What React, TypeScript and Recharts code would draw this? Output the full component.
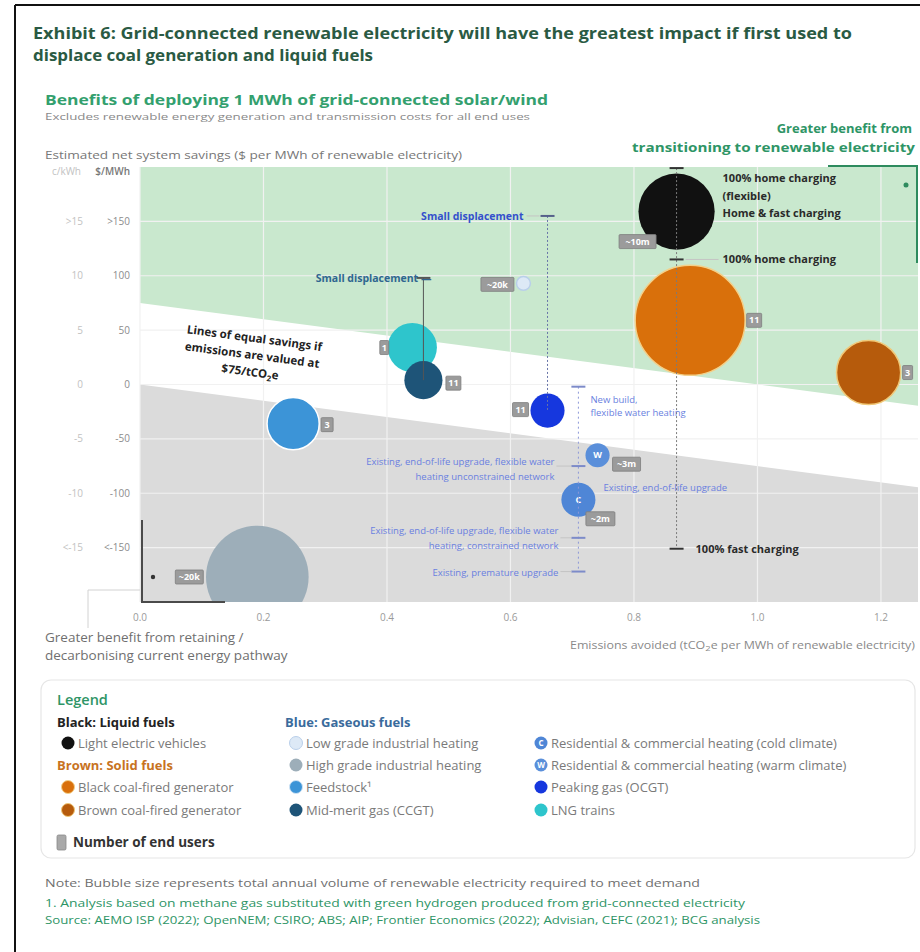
import React from 'react';
import {
  ComposedChart,
  Area,
  Scatter,
  XAxis,
  YAxis,
  ZAxis,
  ReferenceLine,
} from 'recharts';

// ---------- DATA ----------
const categories = [
  'Light electric vehicles',
  'Black coal-fired generator',
  'Brown coal-fired generator',
  'Low grade industrial heating',
  'High grade industrial heating',
  'Feedstock',
  'Mid-merit gas (CCGT)',
  'Residential & commercial heating (cold climate)',
  'Residential & commercial heating (warm climate)',
  'Peaking gas (OCGT)',
  'LNG trains',
];
// tCO2e avoided per MWh of renewable electricity
const emissionsAvoided = [0.869, 0.891, 1.18, 0.621, 0.19, 0.248, 0.459, 0.71, 0.741, 0.66, 0.441];
// Net system savings, $/MWh
const netSavings = [159, 59, 11, 93, -177, -36, 4, -106, -65, -24, 34];
// Annual renewable electricity volume (bubble size)
const volumeTWh = [48, 100, 34, 1.6, 87, 22.5, 12, 9.6, 4.8, 9.6, 20];
// Number of end users
const endUsers = ['~10m', '11', '3', '~20k', '~20k', '3', '11', '~2m', '~3m', '11', '1'];

const xTicks = [0, 0.2, 0.4, 0.6, 0.8, 1.0, 1.2];
const yTicks = [-150, -100, -50, 0, 50, 100, 150];
const yTickLabels = ['<-150', '-100', '-50', '0', '50', '100', '>150'];
const yTickLabelsCents = ['<-15', '-10', '-5', '0', '5', '10', '>15'];

// Lines of equal savings ($75/tCO2e)
const bandX = [0, 1.26];
const greenFloor = [75, -19.5];
const grayCeiling = [0, -94.5];
const bandTop = 200;
const bandBottom = -200;

// Ranges (vertical sensitivity lines)
const rangeX = [0.869, 0.459, 0.66, 0.71];
const rangeTop = [199, 98, 155, -2];
const rangeBottom = [-151, 4, -24, -172];

// Range annotations
const noteX = [0.869, 0.869, 0.869, 0.459, 0.66, 0.71, 0.71, 0.71, 0.71, 0.71];
const noteY = [199, 115, -151, 98, 155, -2, -75, -141, -172, -106];
const noteText = [
  ['100% home charging', '(flexible)', 'Home & fast charging'],
  ['100% home charging'],
  ['100% fast charging'],
  ['Small displacement —'],
  ['Small displacement'],
  ['New build,', 'flexible water heating'],
  ['Existing, end-of-life upgrade, flexible water', 'heating unconstrained network'],
  ['Existing, end-of-life upgrade, flexible water', 'heating, constrained network'],
  ['Existing, premature upgrade'],
  ['Existing, end-of-life upgrade'],
];

// ---------- STYLES ----------
const FONT = '"Open Sans", "Noto Sans", sans-serif';
const bubbleFill = ['#111111', '#D9700B', '#B65B0C', '#DDE9F6', '#9DAEB9', '#3C94D7', '#1E5478', '#4F86D6', '#5A8FDA', '#1637DE', '#2EC5CC'];
const bubbleStroke = ['none', '#F3D08A', '#F0C878', '#B9CFEA', 'none', '#FFFFFF', 'none', 'none', 'none', 'none', 'none'];
const bubbleLetter = ['', '', '', '', '', '', '', 'C', 'W', '', ''];
// badge centre offset from bubble centre (px), and size
const badgeDx = [-39, 64, 39, -26, -68, 34, 30, 22, 29, -27, -28];
const badgeDy = [30, 0, 0, 1, 0, 1, 3, 19, 9, -1, 0];
const badgeW = [37, 15, 10, 33, 28, 12, 15, 29, 28, 16, 9];

const noteStyle = [
  { anchor: 'start', dx: 46, dy: [14, 32, 49], color: '#2a2a2a', size: 11, weight: 700, tick: '#333' },
  { anchor: 'start', dx: 46, dy: [4], color: '#2a2a2a', size: 11, weight: 700, tick: '#333', conn: [9, 42] },
  { anchor: 'start', dx: 19, dy: [4], color: '#2a2a2a', size: 11, weight: 700, tick: '#333' },
  { anchor: 'end', dx: 8, dy: [4], color: '#2F6690', size: 10.5, weight: 700, tick: '#555' },
  { anchor: 'end', dx: -24, dy: [4], color: '#3450CC', size: 10.5, weight: 700, tick: '#55608a', conn: [-21, -8] },
  { anchor: 'start', dx: 12, dy: [16, 29], color: '#6A7FE0', size: 9.5, weight: 400, tick: '#7d8bc9' },
  { anchor: 'end', dx: -24, dy: [-1, 14], color: '#6A7FE0', size: 9.5, weight: 400, tick: '#7d8bc9', conn: [-22, -7] },
  { anchor: 'end', dx: -20, dy: [-4, 11], color: '#6A7FE0', size: 9.5, weight: 400, tick: '#7d8bc9', conn: [-18, -7] },
  { anchor: 'end', dx: -20, dy: [4], color: '#6A7FE0', size: 9.5, weight: 400, tick: '#7d8bc9', conn: [-18, -7] },
  { anchor: 'start', dx: 25, dy: [-9], color: '#6A7FE0', size: 9.5, weight: 400, tick: '' },
];

const rangeStyle = [
  { stroke: '#7a7a7a', dash: '2 2' },
  { stroke: '#555', dash: '' },
  { stroke: '#6874a8', dash: '2 2' },
  { stroke: '#8c98d8', dash: '2 3' },
];

// ---------- SHAPES ----------
const BubbleShape = (p: any) => {
  const { cx, cy, payload } = p;
  const r = p.width ? p.width / 2 : Math.sqrt(Math.max(p.size || 0, 0) / Math.PI);
  const i = payload.idx;
  const stroke = bubbleStroke[i];
  return (
    <g>
      <circle cx={cx} cy={cy} r={r} fill={bubbleFill[i]} stroke={stroke} strokeWidth={stroke === 'none' ? 0 : 1.5} />
      {bubbleLetter[i] ? (
        <text x={cx} y={cy} dy="0.35em" textAnchor="middle" fill="#fff" fontSize={9} fontWeight={700} fontFamily={FONT}>
          {bubbleLetter[i]}
        </text>
      ) : null}
    </g>
  );
};

const EmptyShape = () => <g />;

const BadgeShape = (p: any) => {
  const { cx, cy, payload } = p;
  const i = payload.idx;
  const bx = cx + badgeDx[i];
  const by = cy + badgeDy[i];
  const w = badgeW[i];
  const h = 14;
  return (
    <g>
      <rect x={bx - w / 2} y={by - h / 2} width={w} height={h} fill="#9b9b9b" stroke="#7d7d7d" strokeWidth={0.8} rx={1} />
      <text x={bx} y={by} dy="0.35em" textAnchor="middle" fill="#ffffff" fontSize={9} fontWeight={700} fontFamily={FONT}>
        {endUsers[i]}
      </text>
    </g>
  );
};

const NoteShape = (p: any) => {
  const { cx, cy, payload } = p;
  const i = payload.idx;
  const s: any = noteStyle[i];
  return (
    <g>
      {s.tick ? <line x1={cx - 7} x2={cx + 7} y1={cy} y2={cy} stroke={s.tick} strokeWidth={2} /> : null}
      {s.conn ? <line x1={cx + s.conn[0]} x2={cx + s.conn[1]} y1={cy} y2={cy} stroke="#c4c4c4" strokeWidth={1} /> : null}
      {noteText[i].map((t, k) => (
        <text
          key={k}
          x={cx + s.dx}
          y={cy + s.dy[k]}
          textAnchor={s.anchor}
          fill={s.color}
          fontSize={s.size}
          fontWeight={s.weight}
          fontFamily={FONT}
        >
          {t}
        </text>
      ))}
    </g>
  );
};

const YTick = (p: any) => {
  const { x, y, payload } = p;
  const k = yTicks.indexOf(payload.value);
  return (
    <g>
      <text x={x - 2} y={y} dy="0.35em" textAnchor="end" fill="#8c8c8c" fontSize={10} fontFamily={FONT}>
        {yTickLabels[k]}
      </text>
      <text x={x - 49} y={y} dy="0.35em" textAnchor="end" fill="#c2c2c2" fontSize={10} fontFamily={FONT}>
        {yTickLabelsCents[k]}
      </text>
    </g>
  );
};

// ---------- LEGEND ----------
const legendCols = [
  [
    { head: 'Black: Liquid fuels', color: '#222' },
    { idx: 0 },
    { head: 'Brown: Solid fuels', color: '#C8731F' },
    { idx: 1 },
    { idx: 2 },
  ],
  [{ head: 'Blue: Gaseous fuels', color: '#3A6B9C' }, { idx: 3 }, { idx: 4 }, { idx: 5, label: 'Feedstock¹' }, { idx: 6 }],
  [{ blank: true }, { idx: 7 }, { idx: 8 }, { idx: 9 }, { idx: 10 }],
];
const legendColX = [57, 285, 530];
const legendRowY = [722, 743, 765, 787, 810];

export default function App() {
  const bubbles = categories
    .map((name, i) => ({ name, x: emissionsAvoided[i], y: netSavings[i], z: volumeTWh[i], idx: i }))
    .sort((a, b) => b.z - a.z);
  const bandData = bandX.map((x, i) => ({ x, green: [greenFloor[i], bandTop], gray: [bandBottom, grayCeiling[i]] }));
  const notes = noteX.map((x, i) => ({ x, y: noteY[i], idx: i }));
  const ranges = rangeX.map((x, i) => [
    { x, y: rangeTop[i] },
    { x, y: rangeBottom[i] },
  ]);

  return (
    <div style={{ position: 'absolute', left: 0, top: 0, width: 920, height: 952, background: '#fff', overflow: 'hidden' }}>
      <div style={{ position: 'absolute', left: 0, top: 0 }}>
        <ComposedChart width={920} height={660} data={bandData} margin={{ top: 167, right: 2, left: 80, bottom: 28 }}>
          <XAxis
            type="number"
            dataKey="x"
            domain={[0, 1.26]}
            ticks={xTicks}
            allowDataOverflow
            tickFormatter={(v: number) => v.toFixed(1)}
            axisLine={false}
            tickLine={false}
            tickSize={0}
            tickMargin={12}
            height={30}
            tick={{ fill: '#9a9a9a', fontSize: 10, fontFamily: FONT }}
          />
          <YAxis
            type="number"
            domain={[bandBottom, bandTop]}
            ticks={yTicks}
            allowDataOverflow
            axisLine={false}
            tickLine={false}
            tickSize={0}
            tickMargin={8}
            width={60}
            tick={<YTick />}
          />
          <ZAxis dataKey="z" type="number" domain={[0, 100]} range={[0, 9503]} />
          <ZAxis zAxisId="n" dataKey="z" type="number" range={[4, 4]} />
          <Area dataKey="green" type="linear" stroke="none" fill="#C9E8CE" fillOpacity={1} isAnimationActive={false} dot={false} activeDot={false} />
          <Area dataKey="gray" type="linear" stroke="none" fill="#DBDBDB" fillOpacity={1} isAnimationActive={false} dot={false} activeDot={false} />
          {xTicks.map((x) => (
            <ReferenceLine key={'gx' + x} x={x} stroke="#f1f1f1" strokeWidth={1.2} />
          ))}
          {yTicks.map((y) => (
            <ReferenceLine key={'gy' + y} y={y} stroke="#f1f1f1" strokeWidth={1.2} />
          ))}
          <Scatter data={bubbles} dataKey="y" shape={<BubbleShape />} isAnimationActive={false} />
          {ranges.map((d, i) => (
            <Scatter
              key={'rs' + i}
              data={d}
              dataKey="y"
              zAxisId="n"
              shape={<EmptyShape />}
              line={{ stroke: rangeStyle[i].stroke, strokeWidth: 1, strokeDasharray: rangeStyle[i].dash || undefined }}
              isAnimationActive={false}
            />
          ))}
          <Scatter data={bubbles} dataKey="y" shape={<BadgeShape />} isAnimationActive={false} />
          <Scatter data={notes} dataKey="y" zAxisId="n" shape={<NoteShape />} isAnimationActive={false} />
        </ComposedChart>
      </div>

      <svg width={920} height={952} style={{ position: 'absolute', left: 0, top: 0, pointerEvents: 'none' }} fontFamily={FONT}>
        {/* frame */}
        <line x1={15} y1={5} x2={920} y2={5} stroke="#111" strokeWidth={2} />
        <line x1={15} y1={5} x2={15} y2={952} stroke="#111" strokeWidth={2} />

        {/* titles */}
        <text x={33} y={39} fontSize={16} fontWeight={700} fill="#2A5A43" textLength={819} lengthAdjust="spacingAndGlyphs">
          Exhibit 6: Grid-connected renewable electricity will have the greatest impact if first used to
        </text>
        <text x={33} y={61} fontSize={16} fontWeight={700} fill="#2A5A43" textLength={340} lengthAdjust="spacingAndGlyphs">
          displace coal generation and liquid fuels
        </text>
        <text x={45} y={105} fontSize={13.5} fontWeight={700} fill="#33A06E" textLength={503} lengthAdjust="spacingAndGlyphs">
          Benefits of deploying 1 MWh of grid-connected solar/wind
        </text>
        <text x={45} y={120} fontSize={9.5} fill="#8a8a8a" textLength={485} lengthAdjust="spacingAndGlyphs">
          Excludes renewable energy generation and transmission costs for all end uses
        </text>
        <text x={45} y={159} fontSize={11} fill="#777" textLength={417} lengthAdjust="spacingAndGlyphs">
          Estimated net system savings ($ per MWh of renewable electricity)
        </text>
        <text x={912} y={133} fontSize={13} fontWeight={700} fill="#2E9566" textAnchor="end">
          Greater benefit from
        </text>
        <text x={915} y={152} fontSize={13} fontWeight={700} fill="#2E9566" textAnchor="end" textLength={283} lengthAdjust="spacingAndGlyphs">
          transitioning to renewable electricity
        </text>

        {/* axis headers */}
        <text x={81} y={175} fontSize={10} fill="#c2c2c2" textAnchor="end">c/kWh</text>
        <text x={130} y={175} fontSize={10} fill="#777" textAnchor="end" fontWeight={600}>$/MWh</text>

        {/* corner brackets */}
        <polyline points="828,166 917,166 917,263" fill="none" stroke="#2E8B5E" strokeWidth={2} />
        <circle cx={906} cy={185} r={2.5} fill="#2E8B5E" />
        <polyline points="142,520 142,602 225,602" fill="none" stroke="#4a4a4a" strokeWidth={2} />
        <circle cx={153} cy={577} r={2.2} fill="#333" />
        <polyline points="140,590 88,590 88,628" fill="none" stroke="#d2d2d2" strokeWidth={1} />

        {/* equal savings note */}
        <g transform="translate(252,357) rotate(7.5)" fontWeight={700} fill="#222" fontSize={11.5} textAnchor="middle">
          <text x={0} y={-15}>Lines of equal savings if</text>
          <text x={0} y={2}>emissions are valued at</text>
          <text x={0} y={19}>
            $75/tCO<tspan fontSize={8} dy={3}>2</tspan>
            <tspan dy={-3}>e</tspan>
          </text>
        </g>

        {/* bottom axis captions */}
        <text x={45} y={642} fontSize={13.5} fill="#6f6f6f">Greater benefit from retaining /</text>
        <text x={45} y={660} fontSize={13.5} fill="#6f6f6f">decarbonising current energy pathway</text>
        <text x={915} y={649} fontSize={10.5} fill="#8a8a8a" textAnchor="end" textLength={345} lengthAdjust="spacingAndGlyphs">
          Emissions avoided (tCO<tspan fontSize={8} dy={2}>2</tspan><tspan dy={-2}>e per MWh of renewable electricity)</tspan>
        </text>

        {/* legend box */}
        <rect x={41} y={680} width={874} height={178} rx={10} fill="#fff" stroke="#e6e6e6" strokeWidth={1.2} />
        <text x={57} y={705} fontSize={14.5} fontWeight={600} fill="#2E9566">Legend</text>
        {legendCols.map((col, c) =>
          col.map((item: any, r) => {
            const x = legendColX[c];
            const y = legendRowY[r];
            if (item.blank) return null;
            if (item.head)
              return (
                <text key={c + '-' + r} x={x} y={y + 4.5} fontSize={13} fontWeight={700} fill={item.color}>
                  {item.head}
                </text>
              );
            const i = item.idx;
            const stroke = bubbleStroke[i];
            return (
              <g key={c + '-' + r}>
                <circle cx={x + 11} cy={y} r={6.5} fill={bubbleFill[i]} stroke={stroke === 'none' ? 'none' : stroke === '#FFFFFF' ? '#cfe3f5' : stroke} strokeWidth={1} />
                {bubbleLetter[i] ? (
                  <text x={x + 11} y={y + 3} fontSize={8} fontWeight={700} fill="#fff" textAnchor="middle">
                    {bubbleLetter[i]}
                  </text>
                ) : null}
                <text x={x + 21} y={y + 4.5} fontSize={13} fill="#7a7a7a">
                  {item.label || categories[i]}
                </text>
              </g>
            );
          })
        )}
        <rect x={57} y={835} width={9} height={15} rx={1.5} fill="#a9a9a9" stroke="#888" strokeWidth={0.8} />
        <text x={73} y={847} fontSize={13.5} fontWeight={700} fill="#333">Number of end users</text>

        {/* footnotes */}
        <text x={45} y={887} fontSize={11.5} fill="#6f6f6f" textLength={655} lengthAdjust="spacingAndGlyphs">
          Note: Bubble size represents total annual volume of renewable electricity required to meet demand
        </text>
        <text x={45} y={907} fontSize={11.5} fill="#2E9566" textLength={700} lengthAdjust="spacingAndGlyphs">
          1. Analysis based on methane gas substituted with green hydrogen produced from grid-connected electricity
        </text>
        <text x={45} y={924} fontSize={11.5} fill="#2E9566" textLength={715} lengthAdjust="spacingAndGlyphs">
          Source: AEMO ISP (2022); OpenNEM; CSIRO; ABS; AIP; Frontier Economics (2022); Advisian, CEFC (2021); BCG analysis
        </text>
      </svg>
    </div>
  );
}
